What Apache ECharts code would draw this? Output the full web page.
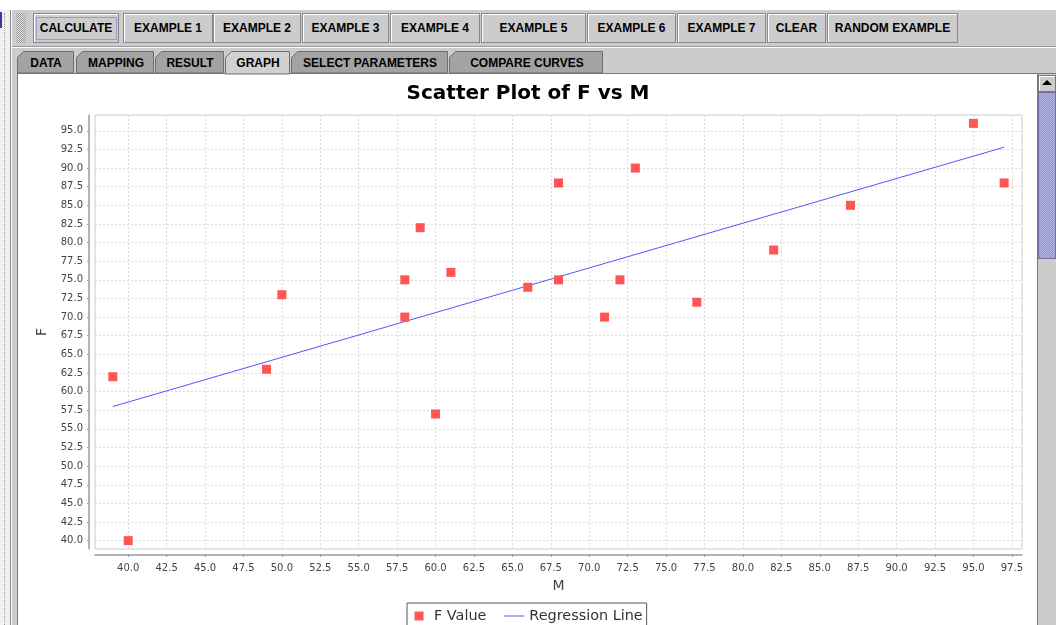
<!DOCTYPE html>
<html>
<head>
<meta charset="utf-8">
<title>Scatter Plot of F vs M</title>
<script src="https://cdn.jsdelivr.net/npm/echarts@6/dist/echarts.min.js"></script>
<style>
  html, body { margin: 0; padding: 0; }
  body { width: 1056px; height: 625px; overflow: hidden; position: relative; background: #cccccc;
         font-family: "Liberation Sans", Arial, sans-serif; }
  .abs { position: absolute; }
  .btn { position: absolute; top: 13px; height: 28px; background: #cccccc; border: 1px solid #8a8a8a;
         box-shadow: inset 1px 1px 0 #ffffff; font-weight: bold; font-size: 12px; color: #000;
         line-height: 28px; text-align: center; box-sizing: content-box; }
  .focus { position: absolute; left: 2px; top: 3px; right: 1px; bottom: 2px; border: 1px solid #9a9acd; }
  #grip { left: 16px; top: 13px; width: 10px; height: 30px;
          background: repeating-conic-gradient(#9a9a9a 0 25%, #e2e2e2 0 50%) 0 0 / 2px 2px; }
  #chart { left: 0; top: 0; width: 1056px; height: 625px; }
  #thumb { left: 1038px; top: 92px; width: 16px; height: 165px; border: 1px solid #6f6fa6;
           background: repeating-conic-gradient(#9494c8 0 25%, #b4b4e2 0 50%) 0 0 / 2px 2px; }
</style>
</head>
<body>
<!-- window frame -->
<div class="abs" style="left:0;top:0;width:1056px;height:10px;background:#fff"></div>
<div class="abs" style="left:0;top:10px;width:10px;height:615px;background:#f2f2f2"></div>
<div class="abs" style="left:4px;top:13px;width:0;height:612px;border-left:1px dotted #9a9a9a"></div>
<div class="abs" style="left:0;top:12px;width:2px;height:16px;background:#3a3a9a"></div>
<div class="abs" style="left:10px;top:10px;width:1px;height:615px;background:#8a8a8a"></div>
<div class="abs" style="left:11px;top:10px;width:1px;height:615px;background:#ffffff"></div>

<!-- toolbar -->
<div class="abs" style="left:12px;top:46px;width:1044px;height:1px;background:#9a9a9a"></div>
<div class="abs" style="left:12px;top:47px;width:1044px;height:1px;background:#ffffff"></div>
<div id="grip" class="abs"></div>
<div class="btn" style="left:33px;width:84px">CALCULATE<div class="focus"></div></div>
<div class="btn" style="left:123px;width:88px">EXAMPLE 1</div>
<div class="btn" style="left:213px;width:86px">EXAMPLE 2</div>
<div class="btn" style="left:302px;width:85px">EXAMPLE 3</div>
<div class="btn" style="left:390px;width:88px">EXAMPLE 4</div>
<div class="btn" style="left:481px;width:103px">EXAMPLE 5</div>
<div class="btn" style="left:587px;width:87px">EXAMPLE 6</div>
<div class="btn" style="left:677px;width:87px">EXAMPLE 7</div>
<div class="btn" style="left:767px;width:57px">CLEAR</div>
<div class="btn" style="left:827px;width:129px">RANDOM EXAMPLE</div>

<!-- content panel -->
<div class="abs" style="left:17px;top:73px;width:1039px;height:552px;background:#fff;border-top:1px solid #7a7a7a;border-left:1px solid #7a7a7a;box-sizing:border-box"></div>

<!-- tabs -->
<svg class="abs" style="left:0;top:0" width="1056" height="76">
  <g font-family="Liberation Sans, Arial, sans-serif" font-size="12" font-weight="bold" fill="#000" text-anchor="middle">
    <polygon points="17.5,73 17.5,57.5 23.5,51.5 73.5,51.5 73.5,73" fill="#a3a3a3" stroke="#6e6e6e"/>
    <text x="46" y="66.5">DATA</text>
    <polygon points="76.5,73 76.5,57.5 82.5,51.5 153.5,51.5 153.5,73" fill="#a3a3a3" stroke="#6e6e6e"/>
    <text x="116" y="66.5">MAPPING</text>
    <polygon points="155.5,73 155.5,57.5 161.5,51.5 223.5,51.5 223.5,73" fill="#a3a3a3" stroke="#6e6e6e"/>
    <text x="190" y="66.5">RESULT</text>
    <polygon points="225.5,74 225.5,57.5 231.5,51.5 289.5,51.5 289.5,74" fill="#d0d0d0" stroke="#6e6e6e"/>
    <text x="258" y="66.5">GRAPH</text>
    <polygon points="291.5,73 291.5,57.5 297.5,51.5 447.5,51.5 447.5,73" fill="#a3a3a3" stroke="#6e6e6e"/>
    <text x="370" y="66.5">SELECT PARAMETERS</text>
    <polygon points="449.5,73 449.5,57.5 455.5,51.5 602.5,51.5 602.5,73" fill="#a3a3a3" stroke="#6e6e6e"/>
    <text x="527" y="66.5">COMPARE CURVES</text>
  </g>
</svg>

<div id="chart" class="abs"></div>

<!-- vertical scrollbar -->
<div class="abs" style="left:1037px;top:74px;width:19px;height:551px;background:#cccccc;border-left:1px solid #7a7a7a;box-sizing:border-box"></div>
<div class="abs" style="left:1038px;top:75px;width:16px;height:15px;background:#cccccc;border:1px solid #7a7a7a;box-shadow:inset 1px 1px 0 #fff"></div>
<div class="abs" style="left:1042px;top:80px;width:0;height:0;border-left:5px solid transparent;border-right:5px solid transparent;border-bottom:5px solid #000"></div>
<div id="thumb" class="abs"></div>

<script>
// Observations: M (x) and F (y)
const mValues = [39, 40, 49, 50, 58, 58, 59, 60, 61, 66, 68, 68, 71, 72, 73, 77, 82, 87, 95, 97];
const fValues = [62, 40, 63, 73, 75, 70, 82, 57, 76, 74, 88, 75, 70, 75, 90, 72, 79, 85, 96, 88];

// Fitted regression line end points
const regressionM = [39, 97];
const regressionF = [58.0, 92.8];

// Axis extents and tick values
const xRange = [37.84, 98.16];
const yRange = [38.88, 97.12];
const xTickValues = [40, 42.5, 45, 47.5, 50, 52.5, 55, 57.5, 60, 62.5, 65, 67.5, 70,
                     72.5, 75, 77.5, 80, 82.5, 85, 87.5, 90, 92.5, 95, 97.5];
const yTickValues = [40, 42.5, 45, 47.5, 50, 52.5, 55, 57.5, 60, 62.5, 65, 67.5, 70,
                     72.5, 75, 77.5, 80, 82.5, 85, 87.5, 90, 92.5, 95];

const seriesNames = ['F Value', 'Regression Line'];

const FONT = '"DejaVu Sans", "Liberation Sans", sans-serif';
const gridLine = { show: true, lineStyle: { color: '#dadada', type: [2, 2], width: 1 } };
const axisLineStyle = { show: true, onZero: false, lineStyle: { color: '#9a9a9a', width: 1.5 } };
const tickFmt = v => Number(v).toFixed(1);

// Legend glyphs: a square inset in a 20x9 frame (tiny corner specks fix the frame size) and a thin bar
const squareIcon = 'path://M0,0L0.01,0L0,0.01Z M5.5,0H14.5V9H5.5Z M19.99,9L20,8.99L20,9Z';
const lineIcon = 'path://M0,0H20V1H0Z';

const chart = echarts.init(document.getElementById('chart'), null, { renderer: 'canvas' });
chart.setOption({
  animation: false,
  backgroundColor: 'transparent',
  title: {
    text: 'Scatter Plot of F vs M',
    left: 'center',
    top: 79,
    textStyle: { fontFamily: FONT, fontSize: 20, fontWeight: 'bold', color: '#000' }
  },
  legend: {
    left: 407,
    top: 603,
    orient: 'horizontal',
    padding: [6, 4, 6, 2],
    itemGap: 18,
    itemWidth: 20,
    itemHeight: 9,
    borderColor: '#555555',
    borderWidth: 1,
    borderRadius: 0,
    backgroundColor: '#ffffff',
    textStyle: { fontFamily: FONT, fontSize: 14.4, color: '#333' },
    data: [
      { name: seriesNames[0], icon: squareIcon },
      { name: seriesNames[1], icon: lineIcon }
    ]
  },
  grid: {
    left: 95, top: 115, width: 927, height: 434,
    show: true, borderColor: '#cccccc', borderWidth: 1, backgroundColor: '#ffffff'
  },
  xAxis: {
    type: 'value',
    min: xRange[0], max: xRange[1],
    position: 'bottom',
    offset: 6,
    name: 'M',
    nameLocation: 'middle',
    nameGap: 24,
    nameTextStyle: { fontFamily: FONT, fontSize: 14, color: '#444' },
    axisLine: axisLineStyle,
    axisTick: { show: true, inside: false, length: 2, customValues: xTickValues, lineStyle: { color: '#9a9a9a' } },
    axisLabel: { customValues: xTickValues, formatter: tickFmt, fontFamily: FONT, fontSize: 10, color: '#444', margin: 8 },
    splitLine: gridLine
  },
  yAxis: {
    type: 'value',
    min: yRange[0], max: yRange[1],
    position: 'left',
    offset: 6,
    name: 'F',
    nameLocation: 'middle',
    nameGap: 35,
    nameRotate: 90,
    nameTextStyle: { fontFamily: FONT, fontSize: 14, color: '#444' },
    axisLine: axisLineStyle,
    axisTick: { show: true, inside: false, length: 2, customValues: yTickValues, lineStyle: { color: '#9a9a9a' } },
    axisLabel: { customValues: yTickValues, formatter: tickFmt, fontFamily: FONT, fontSize: 10, color: '#444', margin: 6 },
    splitLine: gridLine
  },
  series: [
    {
      name: seriesNames[0],
      type: 'scatter',
      symbol: 'rect',
      symbolSize: 9,
      z: 3,
      itemStyle: { color: '#ff5555', opacity: 1 },
      data: mValues.map((m, i) => [m, fValues[i]])
    },
    {
      name: seriesNames[1],
      type: 'line',
      symbol: 'none',
      showSymbol: false,
      z: 2,
      lineStyle: { color: '#5555ff', width: 1 },
      itemStyle: { color: '#5555ff' },
      data: regressionM.map((m, i) => [m, regressionF[i]])
    }
  ]
});
</script>
</body>
</html>
